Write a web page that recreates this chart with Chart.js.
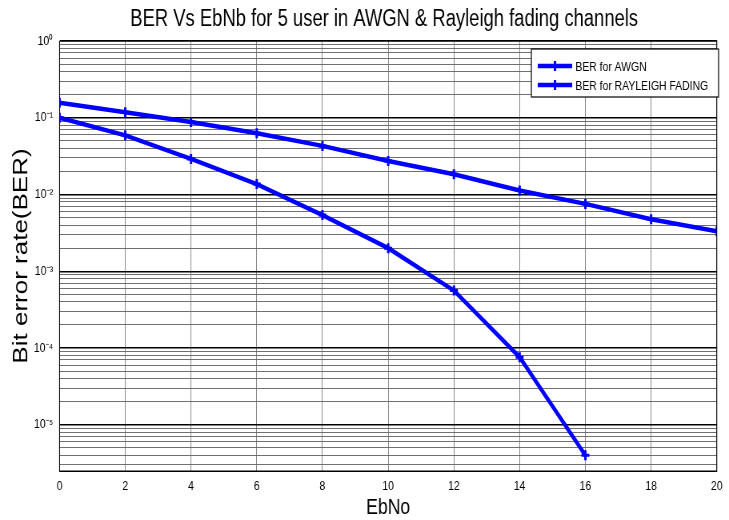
<!DOCTYPE html>
<html lang="en">
<head>
<meta charset="UTF-8">
<title>BER Vs EbNb for 5 user in AWGN &amp; Rayleigh fading channels</title>
<script src="https://cdn.jsdelivr.net/npm/chart.js"></script>
<style>
  html, body { margin: 0; padding: 0; background: #ffffff; }
  #berChart { display: block; }
</style>
</head>
<body>
<!-- drawn wide, shown narrow: gives the condensed look of the exported figure -->
<canvas id="berChart" width="911" height="520" style="width:729px;height:520px"></canvas>
<script>
// EbNo axis (dB)
const ebNo = [0, 2, 4, 6, 8, 10, 12, 14, 16, 18, 20];
// simulated bit error rates
const berAwgn = [0.1, 0.059, 0.0291, 0.0137, 0.0054, 0.0020, 0.00056, 0.000076, 0.000004];
const berRayleigh = [0.157, 0.118, 0.088, 0.063, 0.043, 0.0274, 0.0184, 0.0113, 0.00755, 0.00477, 0.00333];
const seriesLabels = ['BER for AWGN', 'BER for RAYLEIGH FADING'];
const xTicks = [0, 2, 4, 6, 8, 10, 12, 14, 16, 18, 20];
const yDecades = [-6, -5, -4, -3, -2, -1, 0];
const yMin = 2.5e-6;
const yMax = 1;

const SQUASH = 0.8;          // horizontal display scale of the canvas
const FONT = '"Liberation Sans", Arial, sans-serif';
const BLUE = '#0000ff';

// all grid values on the log axis: 1..9 x each decade
const yTickValues = [];
for (const d of yDecades) {
    for (let m = 1; m <= 9; m++) {
        const v = m * Math.pow(10, d);
        if (v >= yMin * 0.999 && v <= yMax * 1.001) yTickValues.push(v);
    }
}

function isDecade(v) {
    const e = Math.log10(v);
    return Math.abs(e - Math.round(e)) < 1e-6;
}

const SUP = {'-': '\u207B', '0': '\u2070', '1': '\u00B9', '2': '\u00B2', '3': '\u00B3',
             '4': '\u2074', '5': '\u2075', '6': '\u2076', '7': '\u2077', '8': '\u2078', '9': '\u2079'};
function powLabel(v) {
    const e = String(Math.round(Math.log10(v)));
    return '10' + e.split('').map(c => SUP[c]).join('');
}

function toPoints(ys) {
    return ys.map((y, i) => ({x: ebNo[i], y: y}));
}

// title, closing frame and legend box
const decorPlugin = {
    id: 'decor',
    afterDraw(chart) {
        const ctx = chart.ctx;
        const a = chart.chartArea;
        ctx.save();

        ctx.strokeStyle = '#000';
        ctx.lineWidth = 1;
        ctx.strokeRect(a.left, a.top, a.right - a.left, a.bottom - a.top);

        ctx.fillStyle = '#000';
        ctx.font = '23px ' + FONT;
        ctx.textAlign = 'center';
        ctx.textBaseline = 'alphabetic';
        ctx.fillText('BER Vs EbNb for 5 user in AWGN & Rayleigh fading channels', (a.left + a.right) / 2 - 5, 26);

        // legend
        const bx = 664, by = 49, bw = 234, bh = 48;
        ctx.fillStyle = '#fff';
        ctx.fillRect(bx, by, bw, bh);
        ctx.strokeStyle = '#000';
        ctx.lineWidth = 1.2;
        ctx.strokeRect(bx, by, bw, bh);
        ctx.font = '13px ' + FONT;
        ctx.textAlign = 'left';
        ctx.textBaseline = 'middle';
        chart.data.datasets.forEach((ds, i) => {
            const y = by + 17 + i * 19;
            const x0 = bx + 8, x1 = bx + 51, xm = (x0 + x1) / 2;
            ctx.strokeStyle = ds.borderColor;
            ctx.lineWidth = 4.5;
            ctx.beginPath();
            ctx.moveTo(x0, y);
            ctx.lineTo(x1, y);
            ctx.stroke();
            ctx.lineWidth = 3;
            ctx.beginPath();
            ctx.moveTo(xm, y - 5);
            ctx.lineTo(xm, y + 5);
            ctx.stroke();
            ctx.fillStyle = '#000';
            ctx.fillText(ds.label, x1 + 4, y + 1);
        });
        ctx.restore();
    }
};

new Chart(document.getElementById('berChart'), {
    type: 'line',
    data: {
        datasets: [
            {
                label: seriesLabels[0],
                data: toPoints(berAwgn),
                borderColor: BLUE,
                backgroundColor: BLUE,
                borderWidth: 4.5,
                pointStyle: 'cross',
                pointRadius: 5,
                pointBorderWidth: 3,
                tension: 0
            },
            {
                label: seriesLabels[1],
                data: toPoints(berRayleigh),
                borderColor: BLUE,
                backgroundColor: BLUE,
                borderWidth: 4.5,
                pointStyle: 'cross',
                pointRadius: 5,
                pointBorderWidth: 3,
                tension: 0
            }
        ]
    },
    options: {
        responsive: false,
        animation: false,
        devicePixelRatio: 1,
        layout: {padding: {top: 41, right: 10, left: 0, bottom: 0}},
        plugins: {
            legend: {display: false},
            title: {display: false},
            tooltip: {enabled: false}
        },
        scales: {
            x: {
                type: 'linear',
                min: 0,
                max: 20,
                afterBuildTicks: (scale) => { scale.ticks = xTicks.map(v => ({value: v})); },
                afterFit: (scale) => { scale.height = 49; },
                grid: {color: '#8a8a8a', lineWidth: 1, drawTicks: false},
                border: {color: '#000', width: 1},
                ticks: {color: '#000', font: {family: FONT, size: 13}, padding: 8, maxRotation: 0},
                title: {
                    display: true,
                    text: 'EbNo',
                    color: '#000',
                    font: {family: FONT, size: 22, lineHeight: 1},
                    padding: {top: 0, bottom: 1}
                }
            },
            y: {
                type: 'logarithmic',
                min: yMin,
                max: yMax,
                afterBuildTicks: (scale) => {
                    scale.ticks = yTickValues.map(v => ({value: v, major: isDecade(v)}));
                },
                afterFit: (scale) => { scale.width = 74.4; },
                grid: {
                    drawTicks: false,
                    color: (c) => (c.tick && isDecade(c.tick.value)) ? '#000' : '#606060',
                    lineWidth: (c) => (c.tick && isDecade(c.tick.value)) ? 1.4 : 0.9
                },
                border: {color: '#000', width: 1},
                ticks: {
                    autoSkip: false,
                    color: '#000',
                    font: {family: FONT, size: 13},
                    padding: 8,
                    callback: (v) => isDecade(v) ? powLabel(v) : ''
                },
                title: {
                    display: true,
                    text: 'Bit error rate(BER)',
                    color: '#000',
                    font: {family: FONT, size: 26, lineHeight: 1},
                    padding: {top: 14, bottom: 0}
                }
            }
        }
    },
    plugins: [decorPlugin]
});
</script>
</body>
</html>
